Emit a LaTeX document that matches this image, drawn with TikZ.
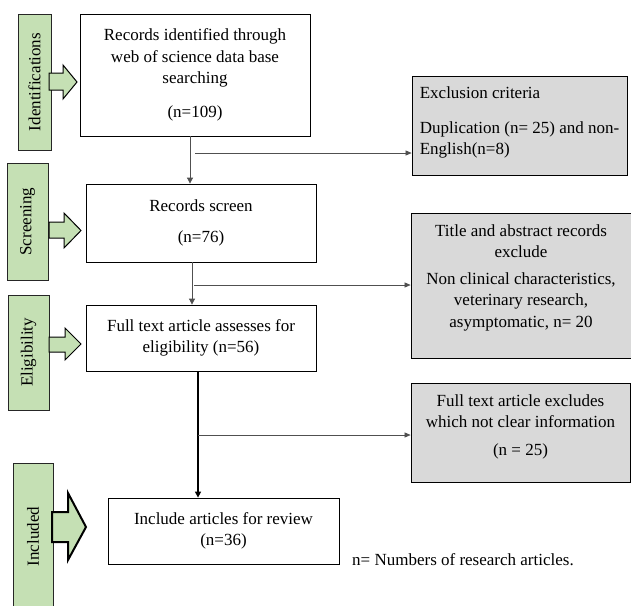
\documentclass[tikz,border=0pt]{standalone}
\usepackage{fontspec}
\setmainfont{Liberation Serif}
\usetikzlibrary{arrows.meta}
\definecolor{stagegreen}{HTML}{C5E0B4}
\definecolor{boxgray}{HTML}{D9D9D9}
\definecolor{linegray}{HTML}{505050}
\begin{document}
\begin{tikzpicture}[x=1pt,y=-1pt,
  txt/.style={font=\fontsize{17}{21.5}\selectfont},
  wbox/.style={txt,draw=black,line width=0.8pt,fill=white,inner sep=0pt,align=center},
  gbox/.style={wbox,fill=boxgray},
  stage/.style={txt,draw=black!85,line width=0.7pt,fill=stagegreen,rotate=90,inner sep=0pt},
  sarrow/.style={draw=black,line width=1pt,fill=stagegreen,line join=miter},
  conn/.style={draw=linegray,line width=0.8pt,-{Triangle[length=6pt,width=6pt]}},
  branch/.style={draw=linegray,line width=0.6pt,-{Triangle[length=6pt,width=5pt]}},
  thickconn/.style={draw=black,line width=1.4pt,-{Triangle[length=6pt,width=6pt]}}
]
\useasboundingbox (0,0) rectangle (631,605);

% stage labels
\node[stage,minimum width=136,minimum height=33] (sid) at (34.5,82) {Identifications};
\node[stage,minimum width=117,minimum height=41] (sscr) at (27.5,221.5) {Screening};
\node[stage,minimum width=115,minimum height=41] (selg) at (28.5,352.5) {Eligibility};
\node[stage,minimum width=147,minimum height=40] (sinc) at (33,536.5) {Included};

% stage block arrows
\draw[sarrow] (49,73) -- (63,73) -- (63,65) -- (77,82) -- (63,99) -- (63,90) -- (49,90) -- cycle;
\draw[sarrow] (49,222) -- (64,222) -- (64,213) -- (81,230.5) -- (64,248) -- (64,238) -- (49,238) -- cycle;
\draw[sarrow] (49,337) -- (65,337) -- (65,328) -- (81,344) -- (65,360) -- (65,352) -- (49,352) -- cycle;
\draw[sarrow,line width=2pt] (52,512) -- (68,512) -- (68,493) -- (86,527) -- (68,560) -- (68,542) -- (52,542) -- cycle;

% main boxes
\node[wbox,minimum width=230,minimum height=122] (b1) at (195,75)
  {Records identified through\\web of science data base\\searching\\[12pt](n=109)};
\node[wbox,minimum width=230,minimum height=78] (b2) at (201,223)
  {Records screen\\[9pt](n=76)};
\node[wbox,minimum width=230,minimum height=66] (b3) at (201,338)
  {Full text article assesses for\\eligibility (n=56)};
\node[wbox,minimum width=231,minimum height=66] (b4) at (223.5,531)
  {Include articles for review\\(n=36)};

% exclusion boxes
\node[gbox,minimum width=215,minimum height=99,align=left] (e1) at (519.5,125.5)
  {Exclusion criteria\\[13pt]Duplication (n= 25) and non-\\English(n=8)\\[-12pt]};
\node[gbox,minimum width=220,minimum height=145] (e2) at (521,285.5)
  {Title and abstract records\\exclude\\[5pt]Non clinical characteristics,\\veterinary research,\\asymptomatic, n= 20\\[-2pt]};
\node[gbox,minimum width=219,minimum height=99] (e3) at (520.5,432.5)
  {Full text article excludes\\which not clear information\\[6pt](n = 25)\\[-6pt]};

% note
\node[txt,anchor=west,inner sep=0pt] (note) at (352,560) {n= Numbers of research articles.};

% connectors
\coordinate (c1) at (190,0);
\coordinate (c2) at (192,0);
\coordinate (c3) at (198,0);
\draw[conn] (b1.south -| c1) -- (b2.north -| c1);
\draw[conn] (b2.south -| c2) -- (b3.north -| c2);
\draw[thickconn] (b3.south -| c3) -- (b4.north -| c3);

\coordinate (k1) at (195,153);
\coordinate (k2) at (194,285);
\coordinate (k3) at (198,435);
\draw[branch] (k1) -- (k1 -| e1.west);
\draw[branch] (k2) -- (k2 -| e2.west);
\draw[branch] (k3) -- (k3 -| e3.west);
\end{tikzpicture}
\end{document}
